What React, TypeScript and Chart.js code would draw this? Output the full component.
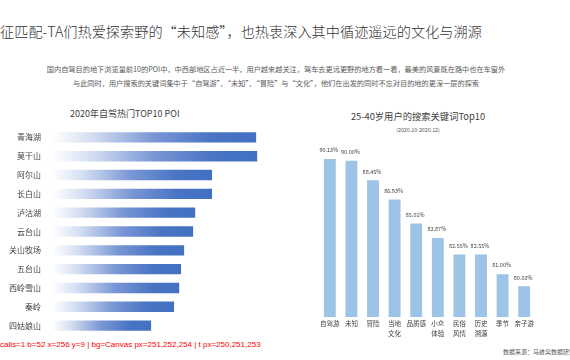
import React, { useEffect, useRef } from "react";
import { Chart, registerables } from "chart.js";

Chart.register(...registerables);

const pageTitle = "征匹配-TA们热爱探索野的“未知感”，也热衷深入其中循迹遥远的文化与溯源";
const introLines = [
  "国内自驾目的地下浏览量前10的POI中，中西部地区占近一半，用户越来越关注，驾车去更远更野的地方看一看，最美的风景既在路中也在车窗外",
  "与此同时，用户搜索的关键词集中于“自驾游”、“未知”、“冒险”与“文化”，他们在出发的同时不忘对目的地的更深一层的探索",
];
const poiTitle = "2020年自驾热门TOP10 POI";
const poiNames = ["青海湖", "莫干山", "阿尔山", "长白山", "泸沽湖", "云台山", "关山牧场", "五台山", "西岭雪山", "秦岭", "四姑娘山"];
const poiIndex = [99.5, 100, 78, 78, 69.8, 68.8, 64.4, 62.9, 62, 59.5, 48.3];

const keywordTitle = "25-40岁用户的搜索关键词Top10";
const keywordPeriod = "(2020.10-2020.12)";
const keywords = [["自驾游"], ["未知"], ["冒险"], ["当地", "文化"], ["品质感"], ["小众", "体验"], ["民俗", "风情"], ["历史", "溯源"], ["季节"], ["亲子游"]];
const keywordShare = [90.13, 90.0, 88.45, 86.93, 85.01, 83.87, 82.55, 82.55, 81.0, 80.03];
const sourceNote = "数据来源：马蜂窝数据研究中心";

const FONT = "'Noto Sans CJK SC', 'Noto Sans', sans-serif";

export default function App() {
  const leftRef = useRef<HTMLCanvasElement>(null);
  const rightRef = useRef<HTMLCanvasElement>(null);
  const dbg = useRef<HTMLDivElement>(null);

  useEffect(() => {
    const log: string[] = [];
    let calls = 0;
    const gradientBars = {
      id: "gradientBars",
      beforeDatasetsDraw(chart: any) {
        calls++;
        const meta = chart.getDatasetMeta(0);
        meta.data.forEach((el: any, i: number) => {
          const x0 = el.base;
          const x1 = el.x;
          if (i === 0) log.push(`b=${Math.round(x0)} x=${Math.round(x1)} y=${Math.round(el.y)}`);
          if (!isFinite(x0) || !isFinite(x1) || x1 <= x0) return;
          const g = chart.ctx.createLinearGradient(x0, 0, x1, 0);
          g.addColorStop(0, "#ffffff");
          g.addColorStop(0.2, "#d3ddf1");
          g.addColorStop(0.5, "#7896d4");
          g.addColorStop(0.78, "#4a74c4");
          g.addColorStop(1, "#4270c2");
          el.options = { ...el.options, backgroundColor: g };
        });
      },
      afterDatasetsDraw(chart: any) {
        const el = chart.getDatasetMeta(0).data[0];
        const px = chart.ctx.getImageData(Math.round(el.base) + 3, Math.round(el.y), 1, 1).data;
        log.push(`bg=${String(el.options.backgroundColor).slice(8, 14)} px=${px[0]},${px[1]},${px[2]}`);
      },
    };

    const left = new Chart(leftRef.current!, {
      type: "bar",
      data: {
        labels: poiNames,
        datasets: [{ data: poiIndex, barPercentage: 0.55, categoryPercentage: 1, backgroundColor: "#4472C4" }],
      },
      options: {
        indexAxis: "y",
        animation: false,
        responsive: false,
        layout: { padding: 0 },
        plugins: { legend: { display: false }, tooltip: { enabled: false } },
        scales: {
          x: { display: false, min: 0, max: 116 },
          y: {
            grid: { display: false, drawTicks: false },
            border: { display: false },
            ticks: { font: { family: FONT, size: 8 }, color: "#404040", padding: 11 },
            afterFit: (s: any) => {
              s.width = 52;
              s.paddingTop = 0;
              s.paddingBottom = 0;
            },
          },
        },
      },
      plugins: [gradientBars],
    });

    const valueLabels = {
      id: "valueLabels",
      afterDatasetsDraw(chart: any) {
        const c = chart.ctx;
        const meta = chart.getDatasetMeta(0);
        c.save();
        c.font = `5.5px ${FONT}`;
        c.fillStyle = "#404040";
        c.textAlign = "center";
        c.textBaseline = "bottom";
        meta.data.forEach((el: any, i: number) => {
          c.fillText(keywordShare[i].toFixed(2) + "%", el.x - 1, el.y - 6);
        });
        c.restore();
      },
    };

    const right = new Chart(rightRef.current!, {
      type: "bar",
      data: {
        labels: keywords as any,
        datasets: [{ data: keywordShare, backgroundColor: "#9dc3e6", barPercentage: 0.55, categoryPercentage: 1 }],
      },
      options: {
        animation: false,
        responsive: false,
        layout: { padding: { left: 19, right: 15, top: 15, bottom: 0 } },
        plugins: { legend: { display: false }, tooltip: { enabled: false } },
        scales: {
          y: { display: false, min: 77.6, max: 90.85 },
          x: {
            grid: { display: false, drawTicks: false },
            border: { display: false },
            ticks: {
              font: { family: FONT, size: 6.5, lineHeight: 1.5 },
              color: "#404040",
              padding: 2,
              maxRotation: 0,
              autoSkip: false,
            },
            afterFit: (s: any) => {
              s.height = 28;
              s.paddingLeft = 0;
              s.paddingRight = 0;
            },
          },
        },
      },
      plugins: [valueLabels],
    });

    const show = () => {
      if (dbg.current) dbg.current.textContent = `calls=${calls} ` + log.slice(-4).join(" | ");
    };
    show();
    const t = setTimeout(() => {
      const px = leftRef.current!.getContext("2d")!.getImageData(56, 9, 1, 1).data;
      log.push(`t px=${px[0]},${px[1]},${px[2]}`);
      show();
    }, 400);

    return () => {
      clearTimeout(t);
      left.destroy();
      right.destroy();
    };
  }, []);

  const abs = (o: React.CSSProperties): React.CSSProperties => ({ position: "absolute", whiteSpace: "nowrap", fontFamily: FONT, ...o });

  return (
    <div style={{ position: "fixed", left: 0, top: 0, width: 570, height: 360, overflow: "hidden", background: "#fff" }}>
      <div style={abs({ left: 0, top: 21, fontSize: 14.2, fontWeight: 300, color: "#333", lineHeight: "20px" })}>{pageTitle}</div>
      {introLines.map((t, i) => (
        <div key={i} style={abs({ left: 0, width: 552, textAlign: "center", top: 64 + i * 14, fontSize: 7.2, color: "#595959", lineHeight: "10px" })}>
          {t}
        </div>
      ))}
      <div style={abs({ left: 70, top: 108, fontSize: 9, color: "#404040", lineHeight: "12px" })}>{poiTitle}</div>
      <div style={abs({ left: 305, width: 226, textAlign: "center", top: 110, fontSize: 9.3, color: "#404040", lineHeight: "12px" })}>{keywordTitle}</div>
      <div style={abs({ left: 300, width: 236, textAlign: "center", top: 126, fontSize: 5.3, color: "#595959", lineHeight: "8px" })}>{keywordPeriod}</div>
      <canvas ref={leftRef} width={290} height={207} style={{ position: "absolute", left: 0, top: 128 }} />
      <canvas ref={rightRef} width={250} height={210} style={{ position: "absolute", left: 300, top: 135 }} />
      <div style={abs({ left: 503, top: 347, fontSize: 6, color: "#595959", lineHeight: "9px" })}>{sourceNote}</div>
      <div ref={dbg} style={{ position: "absolute", left: 0, top: 340, fontSize: 8, fontFamily: "sans-serif", color: "red", whiteSpace: "nowrap" }} />
    </div>
  );
}
